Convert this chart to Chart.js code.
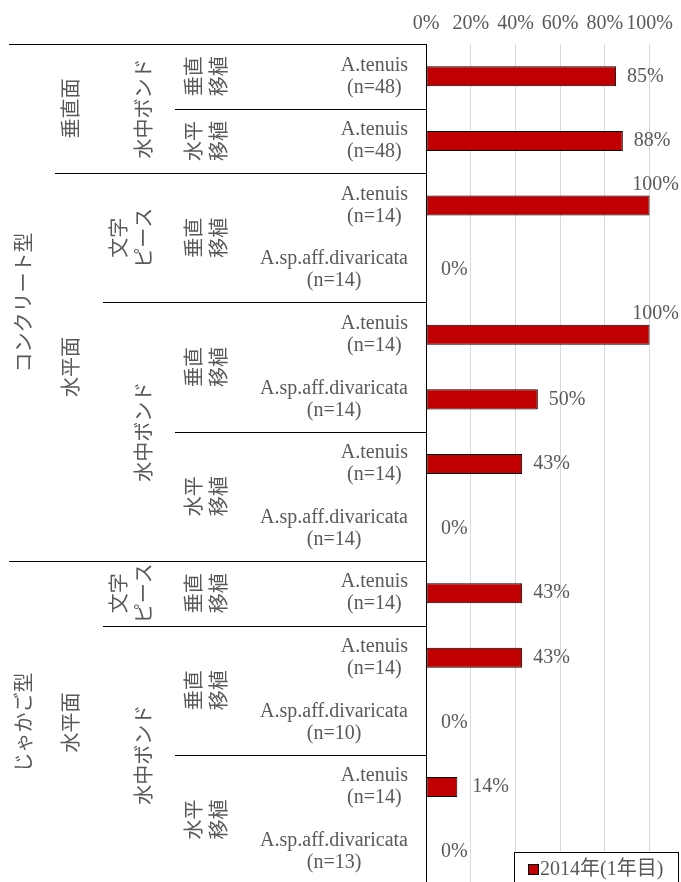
<!DOCTYPE html>
<html><head><meta charset="utf-8">
<script src="https://cdn.jsdelivr.net/npm/chart.js@4"></script>
<style>html,body{margin:0;padding:0;background:#fff;overflow:hidden}#wrap{width:681px;height:884px;position:relative}</style>
</head><body><div id="wrap"><canvas id="c"></canvas></div>
<script>
const wallType = ['コンクリート型','コンクリート型','コンクリート型','コンクリート型','コンクリート型','コンクリート型','コンクリート型','コンクリート型','じゃかご型','じゃかご型','じゃかご型','じゃかご型','じゃかご型'];
const surface = ['垂直面','垂直面','水平面','水平面','水平面','水平面','水平面','水平面','水平面','水平面','水平面','水平面','水平面'];
const method = ['水中ボンド','水中ボンド','文字\nピース','文字\nピース','水中ボンド','水中ボンド','水中ボンド','水中ボンド','文字\nピース','水中ボンド','水中ボンド','水中ボンド','水中ボンド'];
const transplant = ['垂直\n移植','水平\n移植','垂直\n移植','垂直\n移植','垂直\n移植','垂直\n移植','水平\n移植','水平\n移植','垂直\n移植','垂直\n移植','垂直\n移植','水平\n移植','水平\n移植'];
const species = ['A.tenuis','A.tenuis','A.tenuis','A.sp.aff.divaricata','A.tenuis','A.sp.aff.divaricata','A.tenuis','A.sp.aff.divaricata','A.tenuis','A.tenuis','A.sp.aff.divaricata','A.tenuis','A.sp.aff.divaricata'];
const sampleN = [48,48,14,14,14,14,14,14,14,14,10,14,13];
const survival2014 = [85,88,100,0,100,50,43,0,43,43,0,14,0];
const seriesName = '2014年(1年目)';
const xTickStep = 20;

const TEXT = '#595959';
const SERIF = '"Liberation Serif", "Times New Roman", "Noto Sans CJK JP", serif';
const GOTH = '"Noto Sans CJK JP", sans-serif';
const categories = species.map((s, i) => [s, '(n=' + sampleN[i] + ')']);

const hierarchyPlugin = {
  id: 'hierarchy',
  afterDraw(chart) {
    const ctx = chart.ctx, ys = chart.scales.y, area = chart.chartArea;
    const n = survival2014.length;
    const levels = [wallType, surface, method, transplant];
    const levelRight = [33, 80, 153, 228];
    const lineStart = [9, 55, 103, 175];
    const half = (ys.getPixelForValue(1) - ys.getPixelForValue(0)) / 2;
    const top = i => ys.getPixelForValue(i) - half;
    const bot = i => ys.getPixelForValue(i) + half;
    ctx.save();
    ctx.strokeStyle = '#000'; ctx.lineWidth = 1;
    for (let i = 0; i <= n; i++) {
      let k = -1;
      if (i === 0 || i === n) k = 0;
      else { for (let l = 0; l < levels.length; l++) { if (levels[l][i] !== levels[l][i-1]) { k = l; break; } } }
      if (k < 0) continue;
      const y = Math.round(i === n ? bot(n-1) : top(i)) + 0.5;
      ctx.beginPath(); ctx.moveTo(lineStart[k], y); ctx.lineTo(area.left, y); ctx.stroke();
    }
    ctx.fillStyle = TEXT; ctx.font = '20px ' + GOTH;
    ctx.textAlign = 'center'; ctx.textBaseline = 'middle';
    for (let k = 0; k < levels.length; k++) {
      let i = 0;
      while (i < n) {
        const s = i;
        const same = j => { for (let l = 0; l <= k; l++) if (levels[l][j] !== levels[l][s]) return false; return true; };
        while (i + 1 < n && same(i + 1)) i++;
        const e = i;
        const yc = (top(s) + bot(e)) / 2;
        const lines = levels[k][s].split('\n');
        lines.forEach((t, j) => {
          const x = levelRight[k] - 10 - (lines.length - 1 - j) * 25;
          ctx.save(); ctx.translate(x, yc); ctx.rotate(-Math.PI / 2); ctx.fillText(t, 0, 0); ctx.restore();
        });
        i++;
      }
    }
    ctx.font = '20px ' + SERIF;
    for (let i = 0; i < n; i++) {
      const lines = categories[i];
      const w = Math.max(...lines.map(t => ctx.measureText(t).width));
      const cx = 408 - w / 2;
      const yc = ys.getPixelForValue(i);
      ctx.fillText(lines[0], cx, yc - 11);
      ctx.fillText(lines[1], cx, yc + 11);
    }
    ctx.restore();
  }
};

const valuePlugin = {
  id: 'values',
  afterDatasetsDraw(chart) {
    const ctx = chart.ctx;
    const meta = chart.getDatasetMeta(0);
    ctx.save();
    ctx.fillStyle = TEXT; ctx.font = '20px ' + SERIF; ctx.textBaseline = 'middle';
    meta.data.forEach((bar, i) => {
      const v = survival2014[i];
      const t = v + '%';
      if (v >= 100) { ctx.textAlign = 'center'; ctx.fillText(t, bar.x + 6, bar.y - 21); }
      else { ctx.textAlign = 'left'; ctx.fillText(t, bar.x + (v < 20 ? 15 : 11), bar.y); }
    });
    ctx.restore();
  }
};

const legendPlugin = {
  id: 'customLegend',
  afterDraw(chart) {
    const ctx = chart.ctx, ds = chart.data.datasets[0];
    ctx.save();
    ctx.fillStyle = '#fff'; ctx.fillRect(514, 852, 164, 40);
    ctx.strokeStyle = '#000'; ctx.lineWidth = 1; ctx.strokeRect(514.5, 852.5, 164, 40);
    ctx.fillStyle = ds.backgroundColor; ctx.fillRect(528, 864, 10, 10);
    ctx.strokeRect(528.5, 864.5, 10, 10);
    ctx.fillStyle = TEXT; ctx.font = '20px ' + SERIF; ctx.textAlign = 'left'; ctx.textBaseline = 'middle';
    ctx.fillText(ds.label, 540, 870);
    ctx.restore();
  }
};

new Chart(document.getElementById('c'), {
  type: 'bar',
  data: {
    labels: categories,
    datasets: [{
      label: seriesName,
      data: survival2014,
      backgroundColor: '#C00000',
      borderColor: '#000',
      borderWidth: c => (c.raw === 0 ? 0 : 1),
      borderSkipped: false,
      barPercentage: 0.31,
      categoryPercentage: 1
    }]
  },
  options: {
    indexAxis: 'y',
    responsive: true,
    maintainAspectRatio: false,
    animation: false,
    layout: { padding: { left: 426, right: 28, top: 0, bottom: 0 } },
    plugins: { legend: { display: false }, tooltip: { enabled: false } },
    scales: {
      x: {
        position: 'top', min: 0, max: 100,
        afterFit(s) { s.height = 44; },
        border: { display: false },
        grid: { color: c => (c.tick && c.tick.value === 0 ? '#000' : '#d9d9d9'), drawTicks: false, lineWidth: 1 },
        ticks: { stepSize: xTickStep, padding: 8, color: TEXT, font: { family: SERIF, size: 20 }, callback: v => v + '%', maxRotation: 0, autoSkip: false }
      },
      y: { display: false }
    }
  },
  plugins: [hierarchyPlugin, valuePlugin, legendPlugin]
});
</script></body></html>
